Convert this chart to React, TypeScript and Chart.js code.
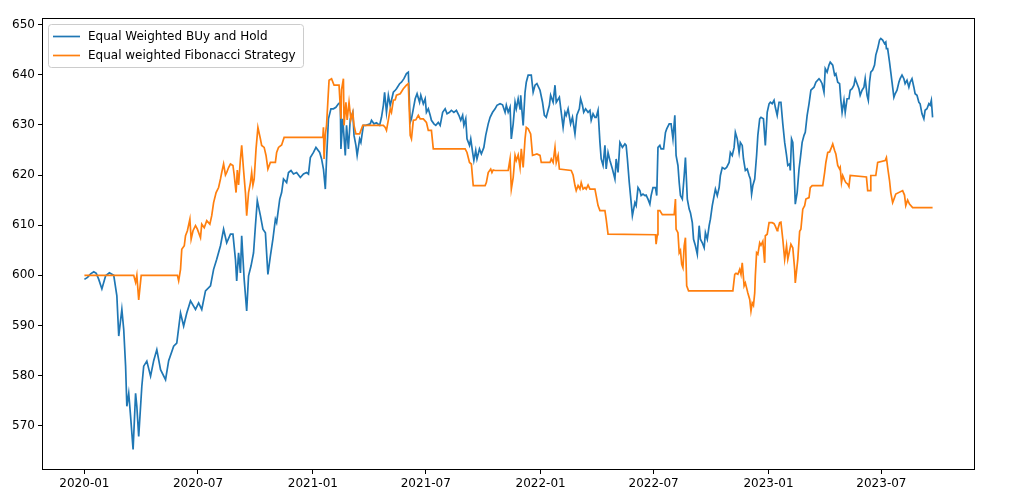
import React, { useEffect, useRef } from "react";
import { Chart, registerables } from "chart.js";

Chart.register(...registerables);

// ---- Data ----
const seriesLabels = ["Equal Weighted BUy and Hold", "Equal weighted Fibonacci Strategy"];
const seriesColors = ["#1f77b4", "#ff7f0e"];

const buyHoldDates = [
  "2020-01-01","2020-01-06","2020-01-11","2020-01-16","2020-01-20","2020-01-24","2020-01-29","2020-02-04",
  "2020-02-10","2020-02-17","2020-02-22","2020-02-25","2020-03-01","2020-03-04","2020-03-07","2020-03-09",
  "2020-03-12","2020-03-15","2020-03-19","2020-03-23","2020-03-25","2020-03-28","2020-04-02","2020-04-05",
  "2020-04-10","2020-04-16","2020-04-21","2020-04-26","2020-05-02","2020-05-10","2020-05-15","2020-05-23",
  "2020-05-28","2020-06-03","2020-06-08","2020-06-13","2020-06-19","2020-06-27","2020-07-02","2020-07-07",
  "2020-07-13","2020-07-21","2020-07-26","2020-07-31","2020-08-06","2020-08-11","2020-08-16","2020-08-22",
  "2020-08-26","2020-08-30","2020-09-01","2020-09-04","2020-09-07","2020-09-09","2020-09-13","2020-09-17",
  "2020-09-20","2020-09-24","2020-09-28","2020-10-01","2020-10-04","2020-10-09","2020-10-13","2020-10-17",
  "2020-10-21","2020-10-25","2020-10-29","2020-11-02","2020-11-04","2020-11-09","2020-11-12","2020-11-15",
  "2020-11-20","2020-11-23","2020-11-27","2020-12-01","2020-12-06","2020-12-12","2020-12-17","2020-12-22",
  "2020-12-25","2020-12-28","2021-01-02","2021-01-06","2021-01-12","2021-01-15","2021-01-18","2021-01-21",
  "2021-01-23","2021-01-26","2021-01-30","2021-02-03","2021-02-07","2021-02-11","2021-02-14","2021-02-15",
  "2021-02-18","2021-02-22","2021-02-24","2021-02-27","2021-03-02","2021-03-06","2021-03-08","2021-03-11",
  "2021-03-13","2021-03-17","2021-03-19","2021-03-23","2021-03-27","2021-04-03","2021-04-05","2021-04-09",
  "2021-04-13","2021-04-18","2021-04-21","2021-04-24","2021-04-26","2021-04-29","2021-05-02","2021-05-05",
  "2021-05-07","2021-05-10","2021-05-13","2021-05-15","2021-05-20","2021-05-23","2021-05-27","2021-05-31",
  "2021-06-03","2021-06-06","2021-06-08","2021-06-11","2021-06-14","2021-06-17","2021-06-21","2021-06-23",
  "2021-06-27","2021-06-30","2021-07-02","2021-07-05","2021-07-08","2021-07-10","2021-07-14","2021-07-17",
  "2021-07-21","2021-07-24","2021-07-28","2021-08-01","2021-08-04","2021-08-08","2021-08-11","2021-08-15",
  "2021-08-19","2021-08-23","2021-08-26","2021-08-29","2021-08-31","2021-09-03","2021-09-05","2021-09-09",
  "2021-09-11","2021-09-14","2021-09-16","2021-09-19","2021-09-21","2021-09-25","2021-09-28","2021-10-02",
  "2021-10-05","2021-10-09","2021-10-12","2021-10-16","2021-10-20","2021-10-23","2021-10-28","2021-11-01",
  "2021-11-05","2021-11-07","2021-11-10","2021-11-13","2021-11-15","2021-11-18","2021-11-21","2021-11-23",
  "2021-11-26","2021-11-29","2021-11-30","2021-12-04","2021-12-07","2021-12-09","2021-12-12","2021-12-17",
  "2021-12-20","2021-12-23","2021-12-26","2021-12-31","2022-01-04","2022-01-07","2022-01-10","2022-01-15",
  "2022-01-17","2022-01-21","2022-01-24","2022-01-26","2022-01-31","2022-02-03","2022-02-06","2022-02-09",
  "2022-02-11","2022-02-14","2022-02-18","2022-02-21","2022-02-25","2022-02-28","2022-03-04","2022-03-06",
  "2022-03-09","2022-03-11","2022-03-14","2022-03-18","2022-03-21","2022-03-23","2022-03-26","2022-03-29",
  "2022-03-31","2022-04-03","2022-04-06","2022-04-08","2022-04-11","2022-04-14","2022-04-16","2022-04-19",
  "2022-04-22","2022-04-26","2022-04-30","2022-05-02","2022-05-05","2022-05-08","2022-05-12","2022-05-16",
  "2022-05-18","2022-05-20","2022-05-23","2022-05-25","2022-05-28","2022-06-01","2022-06-03","2022-06-06",
  "2022-06-09","2022-06-11","2022-06-14","2022-06-17","2022-06-19","2022-06-22","2022-06-25","2022-06-27",
  "2022-06-30","2022-07-04","2022-07-06","2022-07-08","2022-07-11","2022-07-13","2022-07-17","2022-07-20",
  "2022-07-22","2022-07-26","2022-07-29","2022-08-01","2022-08-04","2022-08-06","2022-08-09","2022-08-11",
  "2022-08-13","2022-08-16","2022-08-19","2022-08-21","2022-08-24","2022-08-27","2022-08-29","2022-09-01",
  "2022-09-03","2022-09-06","2022-09-09","2022-09-12","2022-09-14","2022-09-17","2022-09-20","2022-09-22",
  "2022-09-25","2022-09-28","2022-09-30","2022-10-03","2022-10-06","2022-10-08","2022-10-11","2022-10-14",
  "2022-10-16","2022-10-19","2022-10-23","2022-10-26","2022-10-30","2022-11-01","2022-11-04","2022-11-07",
  "2022-11-09","2022-11-12","2022-11-15","2022-11-17","2022-11-20","2022-11-22","2022-11-25","2022-11-28",
  "2022-12-01","2022-12-03","2022-12-05","2022-12-07","2022-12-10","2022-12-13","2022-12-15","2022-12-18",
  "2022-12-20","2022-12-24","2022-12-27","2022-12-30","2023-01-02","2023-01-04","2023-01-07","2023-01-10",
  "2023-01-12","2023-01-15","2023-01-18","2023-01-21","2023-01-24","2023-01-27","2023-01-30","2023-02-01",
  "2023-02-04","2023-02-05","2023-02-07","2023-02-09","2023-02-11","2023-02-13","2023-02-16","2023-02-19",
  "2023-02-21","2023-02-24","2023-02-27","2023-03-01","2023-03-04","2023-03-07","2023-03-10","2023-03-15",
  "2023-03-18","2023-03-23","2023-03-25","2023-03-28","2023-03-31","2023-04-02","2023-04-05","2023-04-08",
  "2023-04-10","2023-04-14","2023-04-17","2023-04-19","2023-04-22","2023-04-25","2023-04-27","2023-04-29",
  "2023-05-02","2023-05-04","2023-05-07","2023-05-10","2023-05-12","2023-05-15","2023-05-18","2023-05-20",
  "2023-05-23","2023-05-26","2023-05-28","2023-05-31","2023-06-03","2023-06-05","2023-06-08","2023-06-10",
  "2023-06-12","2023-06-14","2023-06-17","2023-06-20","2023-06-22","2023-06-25","2023-06-28","2023-06-30",
  "2023-07-03","2023-07-06","2023-07-08","2023-07-09","2023-07-11","2023-07-14","2023-07-16","2023-07-18",
  "2023-07-21","2023-07-23","2023-07-26","2023-07-29","2023-07-31","2023-08-03","2023-08-06","2023-08-08",
  "2023-08-11","2023-08-14","2023-08-16","2023-08-19","2023-08-22","2023-08-24","2023-08-27","2023-08-30",
  "2023-09-01","2023-09-04","2023-09-07","2023-09-09","2023-09-12","2023-09-15","2023-09-17","2023-09-19",
  "2023-09-21",
];

const buyHoldValues = [
  599.2,599.6,600.3,600.7,600.4,599.2,597.3,599.9,
  600.5,600.0,595.9,587.9,593.2,589.2,581.9,573.9,
  576.5,571.9,565.3,576.5,573.9,567.9,577.9,581.9,
  582.9,579.9,583.0,585.2,581.2,579.2,583.0,585.9,
  586.5,592.5,589.9,592.5,594.9,593.2,594.5,593.2,
  596.9,597.9,601.2,603.2,605.9,609.2,606.5,608.2,
  608.2,603.2,598.9,604.5,600.5,607.9,599.2,592.9,
  599.9,601.9,604.5,609.9,614.9,611.9,609.2,608.5,
  600.2,603.9,607.2,611.2,610.5,615.2,616.5,619.2,
  618.5,620.5,620.9,620.2,620.5,619.5,620.2,620.5,
  620.2,623.5,624.5,625.5,624.5,623.2,621.2,617.2,
  623.2,631.2,633.2,633.2,633.5,634.2,634.5,625.2,
  631.2,623.9,629.9,625.2,631.2,632.5,627.9,625.9,
  623.9,627.2,626.5,629.9,629.9,630.2,630.9,630.2,
  630.4,629.9,631.5,633.9,636.5,632.5,635.9,633.9,
  634.9,636.5,636.9,637.2,638.2,638.5,639.2,640.2,
  640.5,630.5,631.2,633.2,635.2,636.2,634.5,635.9,
  634.2,635.2,632.5,633.2,631.9,630.9,630.2,629.9,
  630.5,629.9,632.5,633.2,632.2,632.5,632.9,632.5,
  632.9,631.9,630.9,631.9,629.9,631.2,627.2,625.9,
  627.2,624.5,622.9,624.9,623.2,625.2,624.2,625.5,
  627.9,630.2,631.5,632.5,633.2,633.9,634.2,634.0,
  632.5,633.9,632.5,633.5,627.2,630.2,634.5,633.2,
  635.2,633.2,635.9,629.9,636.5,638.5,639.9,639.9,
  636.5,637.9,638.2,636.9,634.5,631.9,631.5,633.9,
  635.9,634.5,637.9,634.5,635.5,632.5,629.5,632.5,
  631.9,633.2,630.2,631.5,628.2,631.9,633.2,635.2,
  633.9,632.5,633.2,632.5,632.9,630.9,632.2,631.5,
  631.5,632.9,626.5,623.2,621.9,625.9,621.2,624.5,
  622.9,621.2,619.2,623.2,620.5,626.5,625.5,626.2,
  625.9,623.2,618.5,615.9,611.9,614.5,613.9,617.5,
  616.9,615.9,616.2,615.9,616.0,615.2,614.2,615.9,
  617.5,617.5,615.9,625.5,625.9,625.2,625.2,628.5,
  629.2,630.2,630.2,627.2,631.9,623.9,621.9,618.5,
  615.9,615.2,619.9,623.5,615.2,613.2,612.5,610.5,
  607.2,605.9,604.2,609.9,607.2,606.5,605.5,608.5,
  607.2,609.9,611.2,613.9,615.9,617.2,615.9,617.5,
  619.9,621.5,621.2,621.5,622.5,624.5,623.9,625.5,
  628.5,627.2,624.5,626.5,625.9,623.2,620.9,621.2,
  619.9,619.2,616.2,617.9,619.2,623.9,627.9,631.2,
  631.5,631.2,625.9,632.5,634.2,634.5,634.2,634.9,
  633.5,631.9,634.5,634.5,630.2,626.5,623.9,621.9,
  622.2,620.9,627.2,626.5,621.5,614.2,616.5,621.2,
  623.2,626.5,627.9,628.5,631.9,634.2,636.9,637.5,
  638.5,639.2,638.9,638.2,636.5,641.2,640.5,641.9,
  642.5,641.9,639.9,640.2,638.5,638.2,634.9,632.5,
  634.9,632.5,635.2,635.2,636.9,637.2,637.9,639.2,
  638.2,637.2,635.9,636.9,637.5,639.2,635.9,634.9,
  638.5,640.5,640.9,641.9,643.9,645.2,646.9,647.2,
  646.9,646.2,646.5,645.2,645.2,642.5,640.5,638.5,
  635.5,636.2,636.9,638.5,639.2,639.9,639.2,638.2,
  638.9,637.5,638.5,639.2,637.5,636.2,635.9,634.5,
  634.2,632.2,631.2,632.9,633.2,634.2,633.9,634.9,
  631.5,
];

const fiboDates = [
  "2020-01-01","2020-03-20","2020-03-23","2020-03-25","2020-03-28","2020-04-01","2020-05-29","2020-05-31",
  "2020-06-03","2020-06-05","2020-06-09","2020-06-11","2020-06-14","2020-06-18","2020-06-20","2020-06-23",
  "2020-06-27","2020-06-30","2020-07-05","2020-07-07","2020-07-11","2020-07-15","2020-07-20","2020-07-23",
  "2020-07-26","2020-07-30","2020-08-03","2020-08-06","2020-08-08","2020-08-11","2020-08-14","2020-08-16",
  "2020-08-19","2020-08-22","2020-08-26","2020-08-28","2020-08-31","2020-09-02","2020-09-04","2020-09-07",
  "2020-09-09","2020-09-12","2020-09-15","2020-09-17","2020-09-20","2020-09-23","2020-09-25","2020-09-27",
  "2020-09-29","2020-10-02","2020-10-05","2020-10-09","2020-10-11","2020-10-15","2020-10-18","2020-10-21",
  "2020-10-25","2020-11-02","2020-11-04","2020-11-07","2020-11-12","2020-11-16","2021-01-17","2021-01-18",
  "2021-01-19","2021-01-21","2021-01-23","2021-01-25","2021-01-27","2021-01-31","2021-02-04","2021-02-12",
  "2021-02-15","2021-02-16","2021-02-19","2021-02-20","2021-02-23","2021-02-25","2021-02-28","2021-03-03",
  "2021-03-06","2021-03-08","2021-03-11","2021-03-17","2021-03-22","2021-04-24","2021-04-27","2021-04-29",
  "2021-05-02","2021-05-05","2021-05-07","2021-05-10","2021-05-13","2021-05-15","2021-05-21","2021-05-26",
  "2021-05-31","2021-06-03","2021-06-06","2021-06-08","2021-06-11","2021-06-15","2021-06-19","2021-06-22",
  "2021-06-27","2021-07-02","2021-07-05","2021-07-10","2021-07-13","2021-09-02","2021-09-05","2021-09-09",
  "2021-09-12","2021-09-15","2021-10-04","2021-10-06","2021-10-09","2021-10-13","2021-10-15","2021-10-17",
  "2021-10-20","2021-11-10","2021-11-13","2021-11-15","2021-11-18","2021-11-21","2021-11-23","2021-11-26",
  "2021-11-29","2021-12-01","2021-12-04","2021-12-07","2021-12-09","2021-12-12","2021-12-16","2021-12-19",
  "2021-12-26","2021-12-31","2022-01-02","2022-01-16","2022-01-18","2022-01-21","2022-01-24","2022-01-26",
  "2022-01-29","2022-01-31","2022-02-19","2022-02-22","2022-02-25","2022-02-27","2022-03-02","2022-03-05",
  "2022-03-07","2022-03-10","2022-03-13","2022-03-15","2022-03-18","2022-03-21","2022-03-29","2022-03-31",
  "2022-04-03","2022-04-06","2022-04-14","2022-04-16","2022-04-19","2022-07-04","2022-07-05","2022-07-07",
  "2022-07-08","2022-07-11","2022-07-15","2022-08-03","2022-08-05","2022-08-06","2022-08-09","2022-08-11",
  "2022-08-13","2022-08-15","2022-08-17","2022-08-19","2022-08-21","2022-08-23","2022-08-26","2022-11-05",
  "2022-11-08","2022-11-10","2022-11-13","2022-11-16","2022-11-18","2022-11-20","2022-11-23","2022-11-25",
  "2022-11-27","2022-11-29","2022-12-02","2022-12-04","2022-12-06","2022-12-08","2022-12-10","2022-12-11",
  "2022-12-13","2022-12-15","2022-12-18","2022-12-20","2022-12-23","2022-12-26","2022-12-27","2022-12-30",
  "2023-01-02","2023-01-07","2023-01-10","2023-01-12","2023-01-15","2023-01-16","2023-01-19","2023-01-21",
  "2023-01-24","2023-01-27","2023-01-30","2023-02-01","2023-02-06","2023-02-09","2023-02-12","2023-02-13",
  "2023-02-17","2023-02-20","2023-02-22","2023-02-25","2023-02-28","2023-03-02","2023-03-07","2023-03-09",
  "2023-03-12","2023-03-29","2023-04-01","2023-04-03","2023-04-06","2023-04-09","2023-04-11","2023-04-14",
  "2023-04-17","2023-04-19","2023-04-22","2023-04-25","2023-04-26","2023-04-28","2023-04-30","2023-05-03",
  "2023-05-05","2023-05-08","2023-05-10","2023-05-12","2023-06-07","2023-06-09","2023-06-13","2023-06-14",
  "2023-06-22","2023-06-25","2023-07-07","2023-07-09","2023-07-11","2023-07-14","2023-07-16","2023-07-19",
  "2023-07-22","2023-07-24","2023-08-04","2023-08-07","2023-08-09","2023-08-12","2023-08-15","2023-08-20",
  "2023-09-21",
];

const fiboValues = [
  600.0,600.0,598.6,600.0,595.1,600.0,600.0,598.9,
  601.2,605.2,605.9,607.9,608.9,611.2,607.2,608.9,
  609.9,609.2,607.5,610.2,609.5,610.9,610.2,611.9,
  614.5,616.5,617.5,619.2,620.5,622.2,620.0,620.5,
  621.5,622.2,621.9,620.0,616.5,621.0,618.0,623.2,
  625.9,621.0,616.5,611.9,616.5,618.5,620.5,618.0,
  619.2,625.2,629.5,627.2,625.9,625.5,623.9,621.2,
  622.5,622.5,624.5,625.5,626.0,627.5,627.5,629.5,
  623.2,628.0,630.0,634.5,638.9,639.2,637.9,637.9,
  631.2,637.0,639.2,629.9,634.5,631.0,634.5,631.0,
  632.5,629.9,628.2,628.2,629.9,629.9,629.5,628.9,
  631.0,633.2,632.5,634.9,635.0,635.9,636.2,637.2,
  637.9,638.2,627.9,627.2,630.9,631.0,631.9,631.2,
  631.2,630.5,628.9,628.9,625.2,625.2,624.5,622.5,
  622.2,617.9,617.9,618.5,620.5,621.2,620.5,621.0,
  620.9,620.9,623.2,617.2,619.5,623.9,622.9,624.0,
  621.5,625.2,621.5,627.2,629.5,629.2,628.2,623.9,
  624.2,623.9,622.5,622.5,623.2,622.5,625.5,622.5,
  623.9,621.2,620.9,620.0,617.9,616.9,617.9,617.2,
  618.5,617.2,617.5,617.2,618.0,617.2,617.2,615.9,
  613.9,612.9,612.9,611.2,608.2,608.1,606.2,608.1,
  612.9,612.9,612.1,612.1,615.2,609.2,608.5,604.5,
  605.0,602.2,601.5,605.9,607.5,597.9,596.9,596.9,
  600.2,600.4,600.2,601.2,600.2,602.5,597.9,598.5,
  597.5,596.5,595.2,592.9,594.5,594.0,596.5,599.9,
  604.5,604.2,606.5,606.0,606.8,602.5,607.9,608.2,
  610.5,610.5,610.3,609.8,608.9,609.2,610.5,610.6,
  607.2,603.2,605.9,603.2,606.2,605.5,601.2,598.5,
  603.2,608.8,609.2,613.2,613.9,615.2,615.5,617.5,
  617.9,617.9,620.5,622.5,624.5,624.6,625.2,626.2,
  624.9,624.2,621.9,621.2,621.5,618.5,619.9,619.0,
  618.5,618.2,617.7,619.9,619.6,616.9,616.9,619.9,
  619.9,622.5,622.9,623.5,621.5,618.9,616.5,614.5,
  615.5,616.2,616.9,616.0,613.9,615.0,614.2,613.5,
  613.5,
];

const xTickLabels = ["2020-01","2020-07","2021-01","2021-07","2022-01","2022-07","2023-01","2023-07"];
const yTickValues = [570, 580, 590, 600, 610, 620, 630, 640, 650];

// ---- helpers ----
const EPOCH = Date.UTC(2020, 0, 1);
function toDay(s: string): number {
  const p = s.split("-").map(Number);
  return (Date.UTC(p[0], p[1] - 1, p[2] || 1) - EPOCH) / 86400000;
}
function dayLabel(d: number): string {
  const dt = new Date(EPOCH + d * 86400000);
  return dt.getUTCFullYear() + "-" + String(dt.getUTCMonth() + 1).padStart(2, "0");
}

const FONT = "DejaVu Sans";
const FONT_SIZE = 12;

export default function App() {
  const ref = useRef<HTMLCanvasElement | null>(null);

  useEffect(() => {
    const canvas = ref.current;
    if (!canvas) return;

    const bh = buyHoldDates.map((d, i) => ({ x: toDay(d), y: buyHoldValues[i] }));
    const fb = fiboDates.map((d, i) => ({ x: toDay(d), y: fiboValues[i] }));

    const allX = bh.map((p) => p.x).concat(fb.map((p) => p.x));
    const allY = bh.map((p) => p.y).concat(fb.map((p) => p.y));
    const xMin0 = Math.min(...allX), xMax0 = Math.max(...allX);
    const yMin0 = Math.min(...allY), yMax0 = Math.max(...allY);
    const xm = (xMax0 - xMin0) * 0.05;
    const ym = (yMax0 - yMin0) * 0.05;

    const xTickDays = xTickLabels.map((l) => toDay(l));

    const framePlugin = {
      id: "mplFrame",
      afterDraw(chart: any) {
        const { ctx, chartArea: a } = chart;
        ctx.save();
        ctx.strokeStyle = "#000";
        ctx.lineWidth = 1;
        ctx.strokeRect(a.left + 0.5, a.top + 0.5, a.right - a.left - 1, a.bottom - a.top - 1);

        // legend (upper left, matplotlib style)
        ctx.font = FONT_SIZE + "px '" + FONT + "'";
        const textW = Math.max(...chart.data.datasets.map((ds: any) => ctx.measureText(ds.label).width));
        const lx = a.left + 6, ly = a.top + 6, lw = Math.round(40 + textW + 7), lh = 43;
        ctx.beginPath();
        const r = 3;
        ctx.moveTo(lx + r + 0.5, ly + 0.5);
        ctx.arcTo(lx + lw + 0.5, ly + 0.5, lx + lw + 0.5, ly + lh + 0.5, r);
        ctx.arcTo(lx + lw + 0.5, ly + lh + 0.5, lx + 0.5, ly + lh + 0.5, r);
        ctx.arcTo(lx + 0.5, ly + lh + 0.5, lx + 0.5, ly + 0.5, r);
        ctx.arcTo(lx + 0.5, ly + 0.5, lx + lw + 0.5, ly + 0.5, r);
        ctx.closePath();
        ctx.fillStyle = "rgba(255,255,255,0.8)";
        ctx.fill();
        ctx.strokeStyle = "#cccccc";
        ctx.lineWidth = 1;
        ctx.stroke();

        chart.data.datasets.forEach((ds: any, i: number) => {
          const cy = ly + 12.5 + i * 19;
          ctx.beginPath();
          ctx.strokeStyle = ds.borderColor;
          ctx.lineWidth = 1.7;
          ctx.moveTo(lx + 5, cy);
          ctx.lineTo(lx + 32, cy);
          ctx.stroke();
          ctx.fillStyle = "#000";
          ctx.textBaseline = "middle";
          ctx.textAlign = "left";
          ctx.fillText(ds.label, lx + 40, cy);
        });
        ctx.restore();
      },
    };

    const chart = new Chart(canvas, {
      type: "line",
      data: {
        datasets: [
          {
            label: seriesLabels[0],
            data: bh,
            borderColor: seriesColors[0],
            backgroundColor: seriesColors[0],
            borderWidth: 1.7,
            pointRadius: 0,
            tension: 0,
            order: 1,
          },
          {
            label: seriesLabels[1],
            data: fb,
            borderColor: seriesColors[1],
            backgroundColor: seriesColors[1],
            borderWidth: 1.7,
            pointRadius: 0,
            tension: 0,
            order: 0,
          },
        ],
      },
      options: {
        animation: false,
        responsive: false,
        devicePixelRatio: 1,
        parsing: false as any,
        layout: { padding: { left: 0, top: 18, right: 49, bottom: 0 } },
        plugins: { legend: { display: false }, tooltip: { enabled: false } },
        scales: {
          x: {
            type: "linear",
            min: xMin0 - xm,
            max: xMax0 + xm,
            afterFit: (s: any) => { s.height = 34; },
            afterBuildTicks: (s: any) => { s.ticks = xTickDays.map((v) => ({ value: v })); },
            grid: { display: true, drawOnChartArea: false, drawTicks: true, tickLength: 4, color: "#000", lineWidth: 1 },
            border: { display: false },
            ticks: {
              color: "#000",
              font: { family: FONT, size: FONT_SIZE },
              padding: 3,
              maxRotation: 0,
              autoSkip: false,
              callback: (v: any) => dayLabel(Number(v)),
            },
          },
          y: {
            type: "linear",
            min: yMin0 - ym,
            max: yMax0 + ym,
            afterFit: (s: any) => { s.width = 42; },
            afterBuildTicks: (s: any) => { s.ticks = yTickValues.map((v) => ({ value: v })); },
            grid: { display: true, drawOnChartArea: false, drawTicks: true, tickLength: 4, color: "#000", lineWidth: 1 },
            border: { display: false },
            ticks: {
              color: "#000",
              font: { family: FONT, size: FONT_SIZE },
              padding: 3,
              autoSkip: false,
              callback: (v: any) => String(v),
            },
          },
        },
      },
      plugins: [framePlugin],
    } as any);

    return () => chart.destroy();
  }, []);

  return (
    <div style={{ position: "absolute", left: 0, top: 0, width: 1024, height: 504, background: "#fff" }}>
      <canvas ref={ref} width={1024} height={504} style={{ display: "block", width: 1024, height: 504 }} />
    </div>
  );
}
